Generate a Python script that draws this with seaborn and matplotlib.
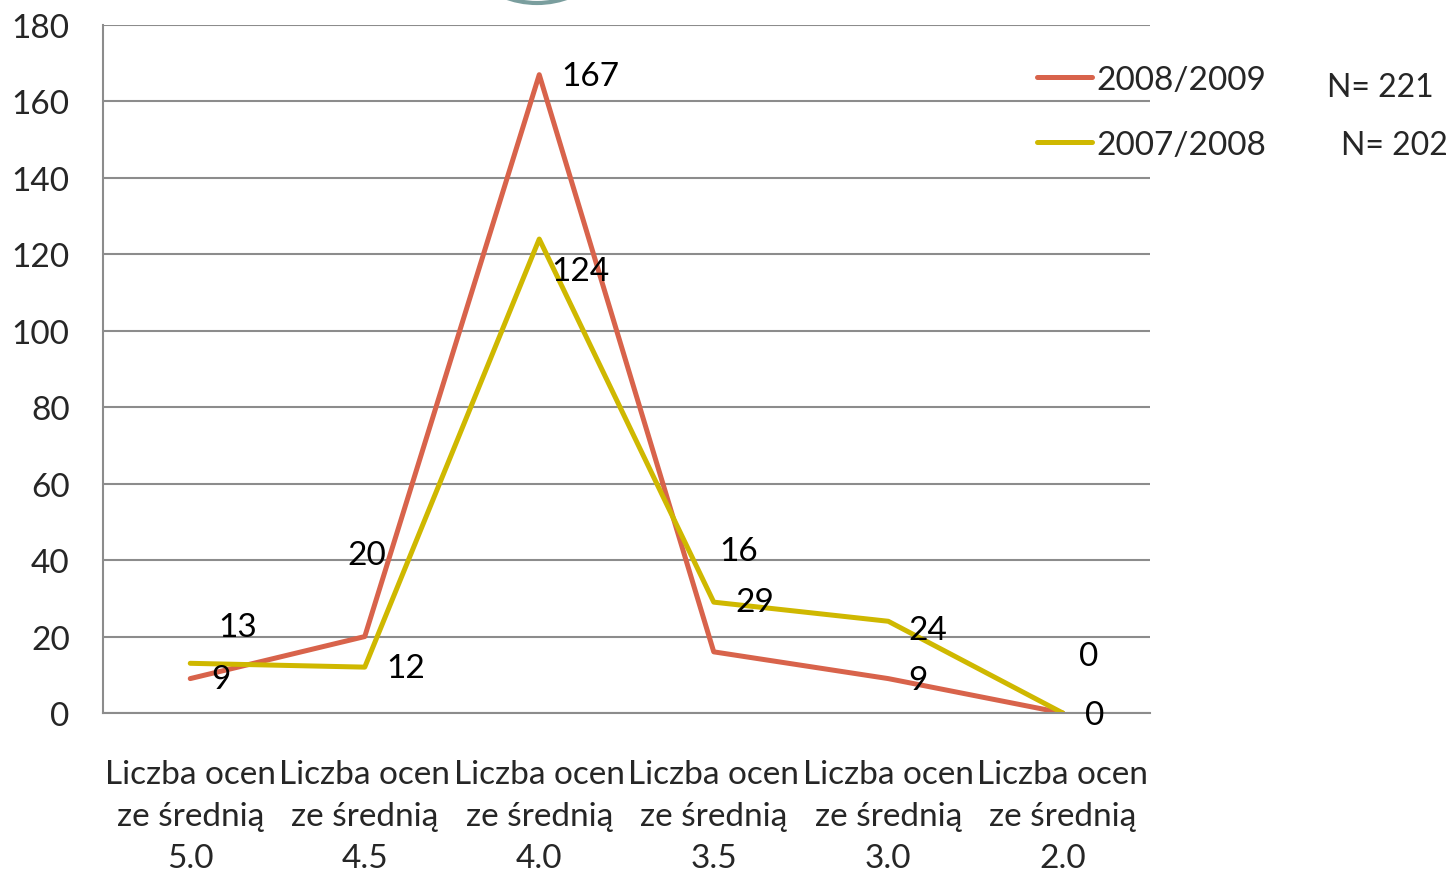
import numpy as np
import pandas as pd
import matplotlib
matplotlib.use("Agg")
import matplotlib.pyplot as plt
import seaborn as sns
from matplotlib.patches import Ellipse

categories = ["Liczba ocen\nze średnią\n5.0", "Liczba ocen\nze średnią\n4.5",
              "Liczba ocen\nze średnią\n4.0", "Liczba ocen\nze średnią\n3.5",
              "Liczba ocen\nze średnią\n3.0", "Liczba ocen\nze średnią\n2.0"]
series_names = ["2008/2009", "2007/2008"]
vals_0809 = [9, 20, 167, 16, 9, 0]
vals_0708 = [13, 12, 124, 29, 24, 0]
n_labels = ["N= 221", "N= 202"]

# label offsets in pixels (dx right, dy up) - Excel put them in odd places
off_0809 = [(31, 0), (2, 82), (51, -1), (25, 101), (30, -1), (32, -2)]
off_0708 = [(47, 36), (41, -1), (41, -32), (41, 0), (40, -9), (26, 57)]

colors = {"2008/2009": "#D8634B", "2007/2008": "#CFB800"}

df = pd.DataFrame({
    "pos": list(range(len(categories))) * 2,
    "value": vals_0809 + vals_0708,
    "series": [series_names[0]] * len(categories) + [series_names[1]] * len(categories),
})

sns.set_style("white")
plt.rcParams["font.family"] = ["Lato", "DejaVu Sans"]
fs = 24

fig = plt.figure(figsize=(14.52, 8.78), dpi=100)
ax = fig.add_axes([103 / 1452, 1 - 714 / 878, (1150 - 103) / 1452, (714 - 26) / 878])

sns.lineplot(data=df, x="pos", y="value", hue="series", palette=colors,
             linewidth=3.6, ax=ax, sort=False, legend=True)

grid_c = "#8C8C8C"
ax.set_xlim(-0.5, len(categories) - 0.5)
ax.set_ylim(0, 180)
ax.set_yticks(np.arange(0, 181, 20))
ax.yaxis.grid(True, color=grid_c, linewidth=1.5)
ax.set_axisbelow(True)
for s in ["top", "right"]:
    ax.spines[s].set_visible(False)
for s in ["left", "bottom"]:
    ax.spines[s].set_color(grid_c)
    ax.spines[s].set_linewidth(1.5)

ax.set_xticks(np.arange(-0.5, len(categories), 1.0))
ax.set_xticklabels([])
ax.set_xticks(range(len(categories)), minor=True)
ax.set_xticklabels(categories, minor=True, fontsize=fs, linespacing=1.5)
ax.tick_params(axis="x", which="major", direction="out", length=8, width=1.5, color=grid_c)
ax.tick_params(axis="x", which="minor", length=0, pad=33)
ax.tick_params(axis="y", direction="out", length=8, width=1.5, color=grid_c,
               labelsize=fs, pad=16)
ax.set_xlabel("")
ax.set_ylabel("")

for vals, offs in [(vals_0809, off_0809), (vals_0708, off_0708)]:
    for i, (v, (dx, dy)) in enumerate(zip(vals, offs)):
        ax.annotate(str(v), (i, v), xytext=(dx * 0.72, dy * 0.72), textcoords="offset points",
                    ha="center", va="center", fontsize=fs, color="black")

handles, labels = ax.get_legend_handles_labels()
leg = ax.legend(handles, labels, loc="upper left", bbox_to_anchor=(1020 / 1452, 1 - 49 / 878),
                bbox_transform=fig.transFigure, frameon=False, fontsize=fs,
                handlelength=1.65, handletextpad=0.15, labelspacing=1.05, borderpad=0)
for line in leg.get_lines():
    line.set_linewidth(3.6)

fig.text(1434 / 1452, 1 - 88 / 878, n_labels[0], fontsize=23, va="center", ha="right")
fig.text(1448 / 1452, 1 - 146 / 878, n_labels[1], fontsize=23, va="center", ha="right")

# partly visible circle at the top edge
fig.patches.append(Ellipse((537 / 1452, 1 + 87 / 878), 182 / 1452, 182 / 878,
                           transform=fig.transFigure, fill=False,
                           edgecolor="#7A9E9E", linewidth=3, clip_on=False))

fig.savefig("out.png", dpi=100)
